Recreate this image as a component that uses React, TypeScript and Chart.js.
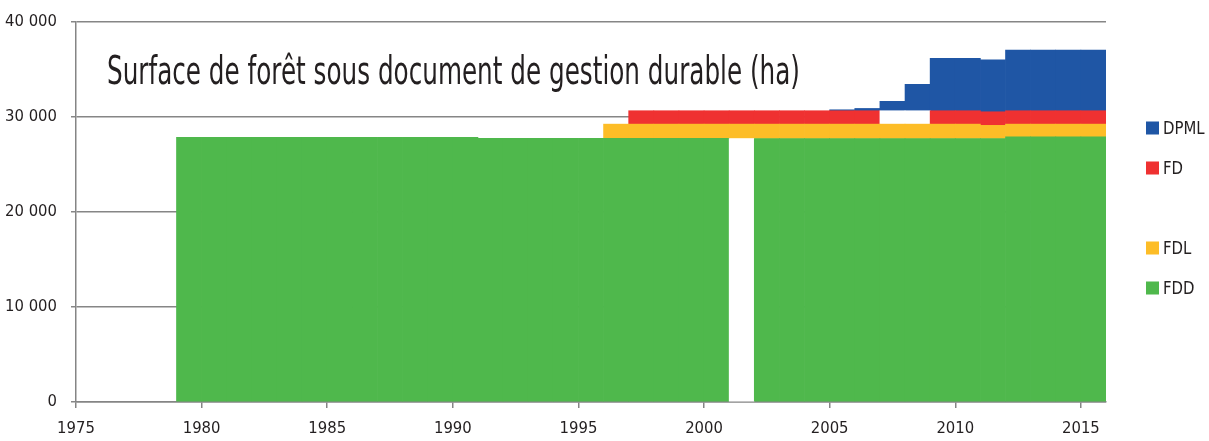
import React, { useEffect, useRef } from 'react';
import { Chart, registerables } from 'chart.js';

Chart.register(...registerables);

// ---- Data (ha) ----
const years = [
  1979, 1980, 1981, 1982, 1983, 1984, 1985, 1986, 1987, 1988, 1989, 1990,
  1991, 1992, 1993, 1994, 1995, 1996, 1997, 1998, 1999, 2000, 2001, 2002,
  2003, 2004, 2005, 2006, 2007, 2008, 2009, 2010, 2011, 2012, 2013, 2014, 2015,
];

// cumulative upper limit of each band
const fddTop = [
  27870, 27870, 27870, 27870, 27870, 27870, 27870, 27870, 27870, 27870, 27870, 27870,
  27760, 27760, 27760, 27760, 27760, 27760, 27760, 27760, 27760, 27760, 27740, 27740,
  27740, 27740, 27740, 27740, 27740, 27740, 27740, 27740, 27740, 27900, 27900, 27900, 27900,
];
const fdlTop = [
  null, null, null, null, null, null, null, null, null, null, null, null,
  null, null, null, null, null, 29250, 29250, 29250, 29250, 29250, 29250, 29250,
  29250, 29250, 29250, 29250, 29250, 29250, 29250, 29250, 29120, 29250, 29250, 29250, 29250,
];
const fdTop = [
  null, null, null, null, null, null, null, null, null, null, null, null,
  null, null, null, null, null, null, 30660, 30660, 30660, 30660, 30660, 30660,
  30660, 30660, 30660, 30660, 30660, 30660, 30660, 30660, 30550, 30660, 30660, 30660, 30660,
];
const dpmlTop = [
  null, null, null, null, null, null, null, null, null, null, null, null,
  null, null, null, null, null, null, null, null, null, null, null, null,
  null, null, 30760, 30900, 31650, 33440, 36180, 36180, 36030, 37050, 37050, 37050, 37050,
];
const fddGapYears = [2001];
const fdGapYears = [2007, 2008];

const xTickYears = [1975, 1980, 1985, 1990, 1995, 2000, 2005, 2010, 2015];
const yTickValues = [0, 10000, 20000, 30000, 40000];
const legendLabels = ['DPML', 'FD', '', 'FDL', 'FDD'];
const titleText = 'Surface de forêt sous document de gestion durable (ha)';

// ---- Styles ----
const FONT = "'Liberation Sans Narrow', 'DejaVu Sans Condensed', 'DejaVu Sans', sans-serif";
const TEXT = '#231F20';
const AXIS = '#858585';
const COLORS: Record<string, string> = {
  FDD: '#4FB84C',
  FDL: '#FDBD27',
  FD: '#EF3131',
  DPML: '#1F56A5',
};

type Pt = { x: number; y: [number, number]; gap: boolean };

function band(low: (number | null)[] | null, high: (number | null)[], gaps: number[]): Pt[] {
  const out: Pt[] = [];
  years.forEach((yr, i) => {
    const h = high[i];
    if (h == null) return;
    const l = low ? (low[i] ?? 0) : 0;
    out.push({ x: yr + 0.5, y: [l, h], gap: gaps.includes(yr) });
  });
  return out;
}

function fmt(v: number) {
  return String(v).replace(/\B(?=(\d{3})+(?!\d))/g, ' ');
}

const titlePlugin = {
  id: 'insideTitle',
  afterDraw(chart: any) {
    const { ctx, chartArea } = chart;
    ctx.save();
    ctx.font = `39px ${FONT}`;
    const w = ctx.measureText(titleText).width;
    const sx = 693 / w;
    ctx.translate(chartArea.left + 31, chartArea.top + 62);
    ctx.scale(sx, 1);
    ctx.fillStyle = TEXT;
    ctx.textBaseline = 'alphabetic';
    ctx.textAlign = 'left';
    ctx.fillText(titleText, 0, 0);
    ctx.restore();
  },
};

const legendPlugin = {
  id: 'sideLegend',
  afterDraw(chart: any) {
    const { ctx, chartArea } = chart;
    ctx.save();
    ctx.font = `18px ${FONT}`;
    ctx.textBaseline = 'middle';
    ctx.textAlign = 'left';
    legendLabels.forEach((lab, i) => {
      if (!lab) return;
      const cy = chartArea.top + 106 + i * 40;
      const bx = chartArea.right + 40;
      ctx.fillStyle = COLORS[lab];
      ctx.fillRect(bx, cy - 6.5, 13, 13);
      ctx.fillStyle = TEXT;
      ctx.save();
      ctx.translate(bx + 17, cy + 1);
      ctx.scale(0.92, 1);
      ctx.fillText(lab, 0, 0);
      ctx.restore();
    });
    ctx.restore();
  },
};

export default function App() {
  const ref = useRef<HTMLCanvasElement | null>(null);

  useEffect(() => {
    if (!ref.current) return;
    const mk = (label: string, data: Pt[]) => ({
      label,
      data,
      backgroundColor: (c: any) => (c.raw && c.raw.gap ? '#FFFFFF' : COLORS[label]),
      borderWidth: 0,
      grouped: false,
      barPercentage: 1,
      categoryPercentage: 1,
    });
    const chart = new Chart(ref.current, {
      type: 'bar',
      data: {
        datasets: [
          mk('FDD', band(null, fddTop, fddGapYears)),
          mk('FDL', band(fddTop, fdlTop, [])),
          mk('FD', band(fdlTop, fdTop, fdGapYears)),
          mk('DPML', band(fdTop, dpmlTop, [])),
        ] as any,
      },
      options: {
        animation: false,
        responsive: false,
        layout: { padding: { top: 22, right: 103, left: 0, bottom: 0 } },
        plugins: {
          legend: { display: false },
          tooltip: { enabled: false },
          title: { display: false },
        },
        scales: {
          x: {
            type: 'linear',
            min: 1975,
            max: 2016,
            offset: false,
            afterBuildTicks: (s: any) => {
              s.ticks = xTickYears.map((v) => ({ value: v }));
            },
            afterFit: (s: any) => {
              s.height = 39;
              s.paddingLeft = 0;
              s.paddingRight = 0;
            },
            grid: {
              drawOnChartArea: false,
              drawTicks: true,
              tickLength: 6,
              color: AXIS,
              lineWidth: 1.5,
              offset: false,
            },
            border: { display: true, color: AXIS, width: 1.5 },
            ticks: {
              padding: 11,
              autoSkip: false,
              maxRotation: 0,
              color: TEXT,
              font: { family: FONT, size: 16.5 },
              callback: (v: any) => String(v),
            },
          },
          y: {
            type: 'linear',
            min: 0,
            max: 40000,
            afterBuildTicks: (s: any) => {
              s.ticks = yTickValues.map((v) => ({ value: v }));
            },
            afterFit: (s: any) => {
              s.width = 76;
              s.paddingTop = 0;
              s.paddingBottom = 0;
            },
            grid: {
              drawTicks: true,
              tickLength: 5,
              color: '#868686',
              lineWidth: 1.5,
            },
            border: { display: true, color: AXIS, width: 1.5 },
            ticks: {
              padding: 14,
              color: TEXT,
              font: { family: FONT, size: 16.5 },
              callback: (v: any) => fmt(Number(v)),
            },
          },
        },
      },
      plugins: [titlePlugin, legendPlugin],
    });
    return () => chart.destroy();
  }, []);

  return (
    <div style={{ position: 'fixed', left: 0, top: 0, width: 1209, height: 441, background: '#FFFFFF' }}>
      <canvas ref={ref} width={1209} height={441} style={{ display: 'block' }} />
    </div>
  );
}
